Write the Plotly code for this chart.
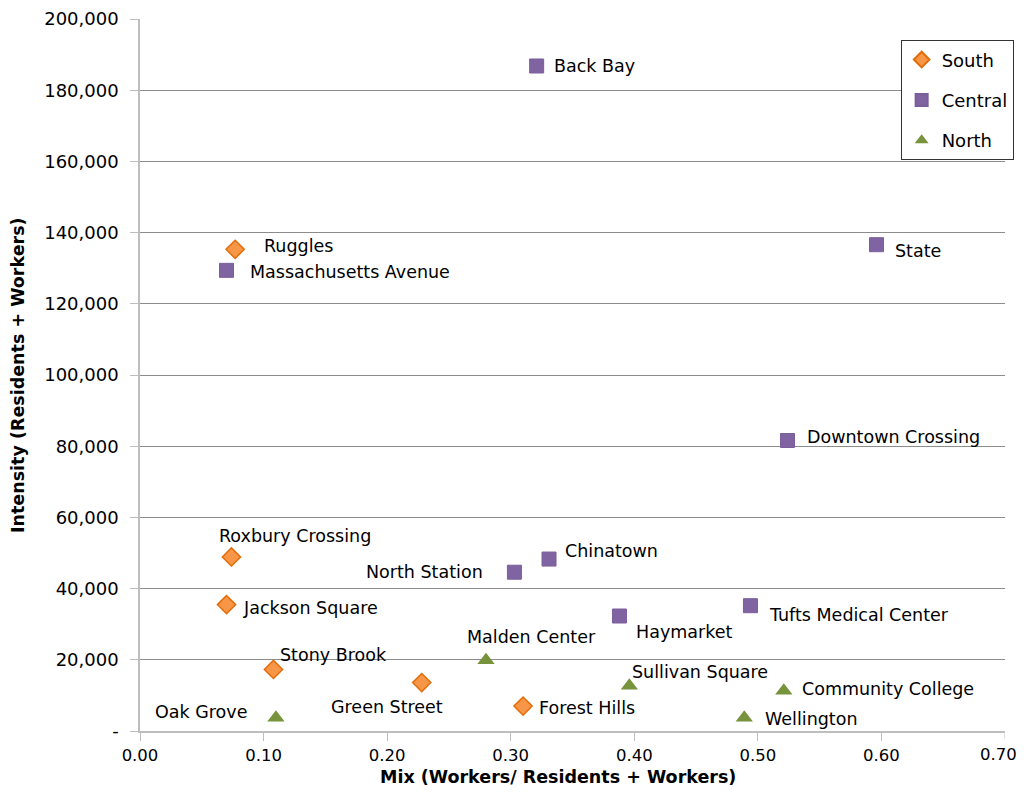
import plotly.graph_objects as go

# values
south_names = ["Ruggles", "Roxbury Crossing", "Jackson Square", "Stony Brook", "Green Street", "Forest Hills"]
south_mix = [0.077, 0.074, 0.070, 0.108, 0.228, 0.310]
south_intensity = [135300, 48900, 35500, 17300, 13600, 7000]

central_names = ["Back Bay", "Massachusetts Avenue", "State", "Downtown Crossing", "Chinatown",
                 "North Station", "Haymarket", "Tufts Medical Center"]
central_mix = [0.321, 0.070, 0.596, 0.524, 0.331, 0.303, 0.388, 0.494]
central_intensity = [186800, 129400, 136600, 81600, 48300, 44600, 32300, 35200]

north_names = ["Malden Center", "Oak Grove", "Sullivan Square", "Community College", "Wellington"]
north_mix = [0.280, 0.110, 0.396, 0.521, 0.489]
north_intensity = [19900, 3700, 12700, 11300, 3700]

y_tickvals = [0, 20000, 40000, 60000, 80000, 100000, 120000, 140000, 160000, 180000, 200000]
y_ticktext = ["-", "20,000", "40,000", "60,000", "80,000", "100,000", "120,000",
              "140,000", "160,000", "180,000", "200,000"]
x_tickvals = [0, 0.1, 0.2, 0.3, 0.4, 0.5, 0.6, 0.7]
x_ticktext = ["0.00", "0.10", "0.20", "0.30", "0.40", "0.50", "0.60", "0.70"]

# label offsets (pixels): xanchor, xshift, yshift
label_pos = {
    "Ruggles": ("left", 27, 3),
    "Roxbury Crossing": ("left", -14, 21),
    "Jackson Square": ("left", 14, -3),
    "Stony Brook": ("left", 5, 14),
    "Green Street": ("right", 23, -24),
    "Forest Hills": ("left", 14, -2),
    "Back Bay": ("left", 15, 0),
    "Massachusetts Avenue": ("left", 21, -2),
    "State": ("left", 17, -6),
    "Downtown Crossing": ("left", 17, 4),
    "Chinatown": ("left", 14, 8),
    "North Station": ("right", -29, 0),
    "Haymarket": ("left", 15, -16),
    "Tufts Medical Center": ("left", 17, -9),
    "Malden Center": ("left", -21, 23),
    "Oak Grove": ("right", -27, 6),
    "Sullivan Square": ("left", 1, 14),
    "Community College": ("left", 16, 2),
    "Wellington": ("left", 19, -1),
}

FONT = "'DejaVu Sans', sans-serif"
TITLE_FONT = dict(family="'DejaVu Sans', sans-serif", size=17.5, color="#000000")
XTICK_SIZE = 16.5

fig = go.Figure()

series = [
    ("South", south_names, south_mix, south_intensity,
     dict(symbol="diamond", size=14, color="#F79646", line=dict(color="#E36C09", width=1.5))),
    ("Central", central_names, central_mix, central_intensity,
     dict(symbol="square", size=14, color="#8064A2", line=dict(color="#7A5E9C", width=1))),
    ("North", north_names, north_mix, north_intensity,
     dict(symbol="triangle-up", size=15, color="#77933C", line=dict(color="#77933C", width=0))),
]

annotations = []
for name, names, xs, ys, marker in series:
    fig.add_trace(go.Scatter(
        x=xs, y=ys, mode="markers", name=name, marker=marker,
        text=names, legendgroup=name, hoverinfo="text+x+y",
    ))
    for n, xv, yv in zip(names, xs, ys):
        anchor, dx, dy = label_pos[n]
        annotations.append(dict(
            x=xv, y=yv, xref="x", yref="y", text=n, showarrow=False,
            xanchor=anchor, yanchor="middle", xshift=dx, yshift=dy,
            font=dict(family=FONT, size=17.5, color="#000000"),
        ))

# last x tick label would be clipped at the page edge, so pin it right-aligned
annotations.append(dict(
    x=x_tickvals[-1], y=0, xref="x", yref="paper", text=x_ticktext[-1], showarrow=False,
    xanchor="right", yanchor="top", xshift=14, yshift=-12,
    font=dict(family=FONT, size=XTICK_SIZE, color="#000000"),
))

# axis titles placed by hand to match the reference
annotations.append(dict(
    x=-0.141, y=0.5, xref="paper", yref="paper", text="<b>Intensity (Residents + Workers)</b>",
    showarrow=False, textangle=-90, xanchor="center", yanchor="middle", font=TITLE_FONT,
))
annotations.append(dict(
    x=0.483, y=-0.0815, xref="paper", yref="paper", text="<b>Mix (Workers/ Residents + Workers)</b>",
    showarrow=False, xanchor="center", yanchor="bottom", font=TITLE_FONT,
))

fig.update_layout(
    width=1018, height=781,
    margin=dict(l=132, r=21, t=11, b=58, autoexpand=False),
    plot_bgcolor="white", paper_bgcolor="white",
    font=dict(family=FONT, size=16, color="#000000"),
    annotations=annotations,
    showlegend=True,
    legend=dict(
        x=1.01, y=0.970, xanchor="right", yanchor="top",
        bordercolor="#333333", borderwidth=1, bgcolor="white",
        font=dict(family=FONT, size=18), tracegroupgap=14,
        itemsizing="constant",
    ),
    xaxis=dict(
        range=[0, 0.7], tickvals=x_tickvals[:-1], ticktext=x_ticktext[:-1],
        showgrid=False, zeroline=False, automargin=False,
        showline=True, linecolor="#BEBEBE", linewidth=1.5,
        ticks="outside", ticklen=8, tickcolor="#BEBEBE",
        tickfont=dict(family=FONT, size=XTICK_SIZE),
    ),
    yaxis=dict(
        range=[0, 200000], tickvals=y_tickvals, ticktext=y_ticktext,
        showgrid=True, gridcolor="#8C8C8C", gridwidth=1, zeroline=False, automargin=False,
        showline=True, linecolor="#BEBEBE", linewidth=1.5,
        ticks="outside", ticklen=8, tickcolor="#BEBEBE", ticklabelstandoff=8,
        tickfont=dict(family=FONT, size=18),
    ),
)

# tick mark at 0.70 kept through a shape in axis coordinates
fig.add_shape(type="line", xref="x", yref="paper", x0=x_tickvals[-1], x1=x_tickvals[-1],
              y0=0, y1=-0.0112, line=dict(color="#BEBEBE", width=1))

fig.write_html("out.html")
